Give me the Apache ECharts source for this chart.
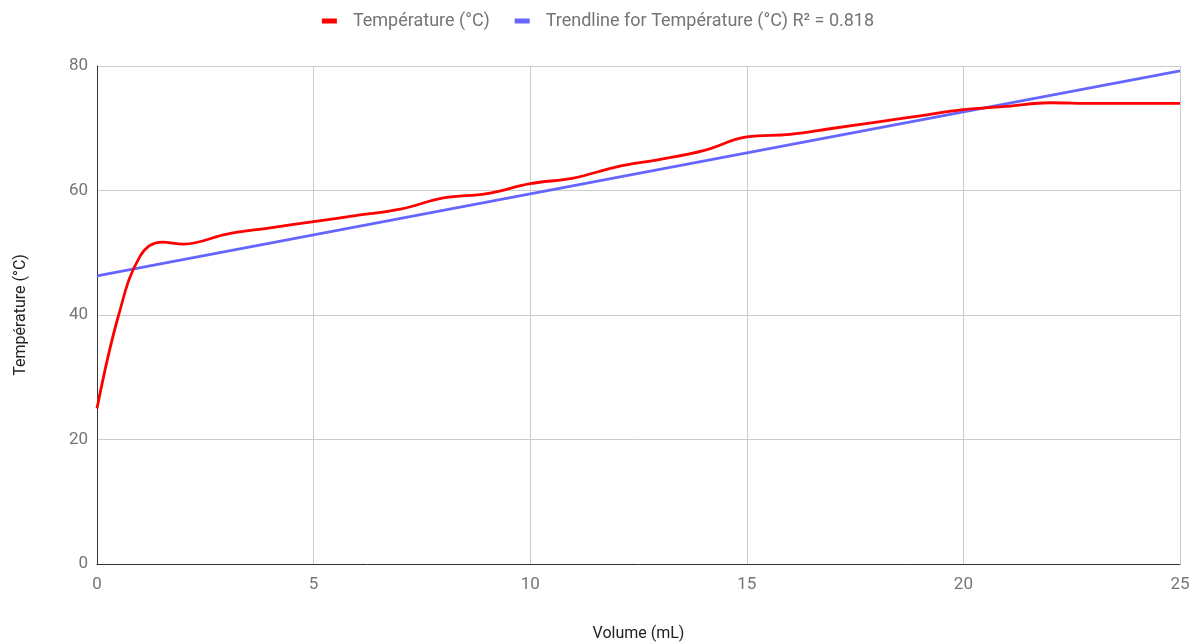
<!DOCTYPE html>
<html lang="fr" style="height: 100%">
<head>
  <meta charset="utf-8">
</head>
<body style="height: 100%; margin: 0; background: #fff">
  <div id="container" style="width: 1196px; height: 643px"></div>

  <script type="text/javascript" src="https://fastly.jsdelivr.net/npm/echarts@6/dist/echarts.min.js"></script>
  <script type="text/javascript">
// volume (mL) and measured temperature (°C)
var volumes = [0, 0.5, 1, 1.5, 2, 3, 4, 5, 6, 7, 8, 9, 10, 11, 12, 13, 14, 15, 16, 17, 18, 19, 20, 21, 22, 23, 24, 25];
var temps = [25, 40, 49.5, 51.7, 51.4, 53, 54, 55, 56, 57, 58.8, 59.5, 61.1, 62, 63.8, 65, 66.4, 68.6, 69, 70, 71, 72, 73, 73.5, 74.1, 74, 74, 74];
// trendline end points
var trendX = [0, 25];
var trendY = [46.3, 79.2];

var dom = document.getElementById('container');
var myChart = echarts.init(dom, null, { renderer: 'canvas' });

var lineData = volumes.map(function (v, i) { return [v, temps[i]]; });
var trendData = trendX.map(function (v, i) { return [v, trendY[i]]; });

var txt = '#757575';
var font = 'Roboto';

var option = {
  backgroundColor: '#fff',
  textStyle: { fontFamily: font },
  legend: {
    top: 7,
    left: 'center',
    itemWidth: 15,
    itemHeight: 5,
    itemGap: 25,
    icon: 'rect',
    textStyle: { color: txt, fontSize: 18, fontFamily: font, padding: [0, 0, 0, 11] },
    data: ['Température (°C)', 'Trendline for Température (°C) R² = 0.818']
  },
  grid: { left: 97, right: 16, top: 66, bottom: 79, containLabel: false, outerBoundsMode: 'none' },
  xAxis: {
    type: 'value',
    min: 0, max: 25, interval: 5,
    name: 'Volume (mL)',
    nameLocation: 'middle',
    nameGap: 62,
    nameTextStyle: { color: '#222', fontSize: 16, fontFamily: font },
    axisLine: { show: true, lineStyle: { color: '#333', width: 1 } },
    axisTick: { show: false },
    axisLabel: { color: txt, fontSize: 17, margin: 12 },
    splitLine: { show: true, lineStyle: { color: '#cccccc', width: 1 } }
  },
  yAxis: {
    type: 'value',
    min: 0, max: 80, interval: 20,
    name: 'Température (°C)',
    nameLocation: 'middle',
    nameGap: 68,
    nameTextStyle: { color: '#222', fontSize: 16, fontFamily: font },
    axisLine: { show: true, lineStyle: { color: '#333', width: 1 } },
    axisTick: { show: false },
    axisLabel: { color: txt, fontSize: 17, margin: 9 },
    splitLine: { show: true, lineStyle: { color: '#cccccc', width: 1 } }
  },
  series: [
    {
      name: 'Température (°C)',
      type: 'line',
      data: lineData,
      smooth: 0.4,
      showSymbol: false,
      color: '#ff0000',
      lineStyle: { color: '#ff0000', width: 2.8 },
      z: 3
    },
    {
      name: 'Trendline for Température (°C) R² = 0.818',
      type: 'line',
      data: trendData,
      showSymbol: false,
      color: '#6666ff',
      lineStyle: { color: '#6666ff', width: 2.8 },
      z: 2
    }
  ]
};

myChart.setOption(option);
window.addEventListener('resize', myChart.resize);
  </script>
</body>
</html>
